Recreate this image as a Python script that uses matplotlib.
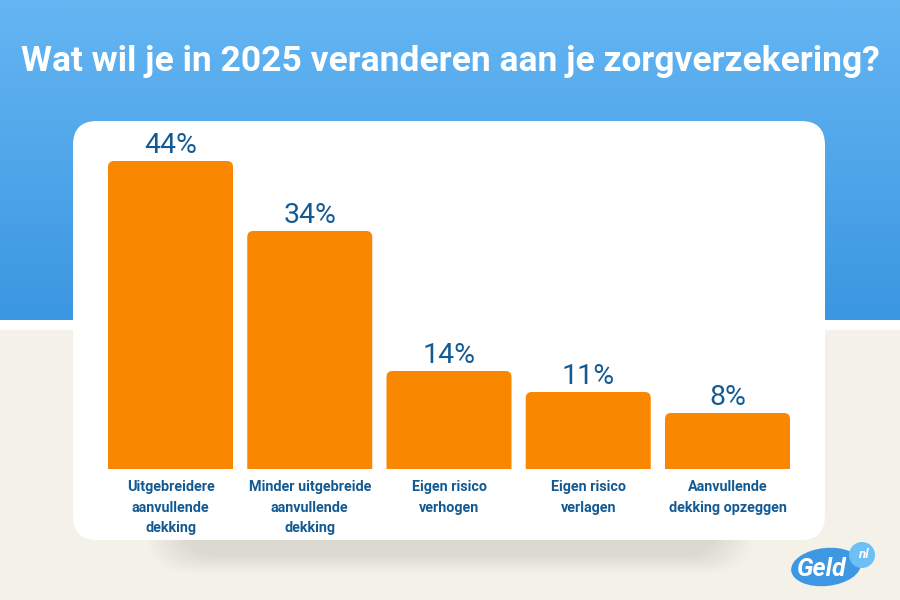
import numpy as np
import matplotlib
matplotlib.use("Agg")
import matplotlib.pyplot as plt
from matplotlib.patches import FancyBboxPatch, Rectangle, Ellipse, Circle
from matplotlib.colors import LinearSegmentedColormap

# ---- data ----
title = "Wat wil je in 2025 veranderen aan je zorgverzekering?"
categories = [
    "Uitgebreidere\naanvullende\ndekking",
    "Minder uitgebreide\naanvullende\ndekking",
    "Eigen risico\nverhogen",
    "Eigen risico\nverlagen",
    "Aanvullende\ndekking opzeggen",
]
values = [44, 34, 14, 11, 8]
value_labels = ["44%", "34%", "14%", "11%", "8%"]

BAR = "#f98800"
TXT = "#135a93"
W, H = 900, 600

fig = plt.figure(figsize=(9, 6), dpi=100)

# ---- background (pixel coordinates) ----
bg = fig.add_axes([0, 0, 1, 1])
bg.set_xlim(0, W)
bg.set_ylim(H, 0)
bg.axis("off")

bg.add_patch(Rectangle((0, 320), W, 280, facecolor="#f4f1e8", edgecolor="none"))
bg.add_patch(Rectangle((0, 320), W, 10, facecolor="white", edgecolor="none"))
grad = np.linspace(0, 1, 256).reshape(-1, 1)
cmap = LinearSegmentedColormap.from_list("g", ["#65b6f3", "#3b97e1"])
bg.imshow(grad, extent=(0, W, 320, 0), cmap=cmap, aspect="auto", zorder=0)

# soft card shadow
for i in range(12):
    grow = 3 * i
    bg.add_patch(FancyBboxPatch((180 - grow, 480 - grow * 0.3), 540 + 2 * grow, 76 + grow * 0.8,
                                boxstyle="round,pad=0,rounding_size=40",
                                facecolor="#8a7f6a", edgecolor="none", alpha=0.014, zorder=1))
# card
bg.add_patch(FancyBboxPatch((73, 121), 752, 419, boxstyle="round,pad=0,rounding_size=24",
                            facecolor="white", edgecolor="none", zorder=2))

bg.text(W / 2, 61, title, color="white", fontsize=25.5, fontweight="bold",
        family="Roboto", ha="center", va="center", zorder=3)

# logo
bg.add_patch(Ellipse((826, 567), 70, 38, angle=-6, facecolor="#3d97e2", edgecolor="none", zorder=3))
bg.add_patch(Circle((862, 555), 13, facecolor="#6cc0f5", edgecolor="none", zorder=3))
bg.text(822, 569, "Geld", color="white", fontsize=18, fontweight="bold", style="italic",
        family="Roboto", ha="center", va="center", zorder=4)
bg.text(863, 554, "nl", color="white", fontsize=9.5, fontweight="bold", style="italic",
        family="Roboto", ha="center", va="center", zorder=4)

# ---- chart axes ----
spacing = 139.25
left = 170.5 - spacing / 2
ax = fig.add_axes([left / W, (H - 469) / H, 5 * spacing / W, 350 / H])
ax.set_xlim(-0.5, 4.5)
ax.set_ylim(0, 50)
ax.axis("off")
ax.patch.set_alpha(0)

x = np.arange(len(values))
bw = 125 / spacing
aspect = spacing / 7.0
for xi, v, lab, cat in zip(x, values, value_labels, categories):
    p = FancyBboxPatch((xi - bw / 2, -2), bw, v + 2,
                       boxstyle="round,pad=0,rounding_size=%f" % (6 / spacing),
                       mutation_aspect=aspect, facecolor=BAR, edgecolor="none")
    ax.add_patch(p)
    ax.annotate(lab, (xi, v), xytext=(0, 1.5), textcoords="offset points",
                ha="center", va="bottom", color=TXT, fontsize=20.5, family="Roboto")
    ax.annotate(cat, (xi, 0), xytext=(0, -8), textcoords="offset points",
                ha="center", va="top", color=TXT, fontsize=10.4, fontweight="bold",
                family="Roboto", linespacing=1.6)

fig.savefig("out.png", dpi=100)
